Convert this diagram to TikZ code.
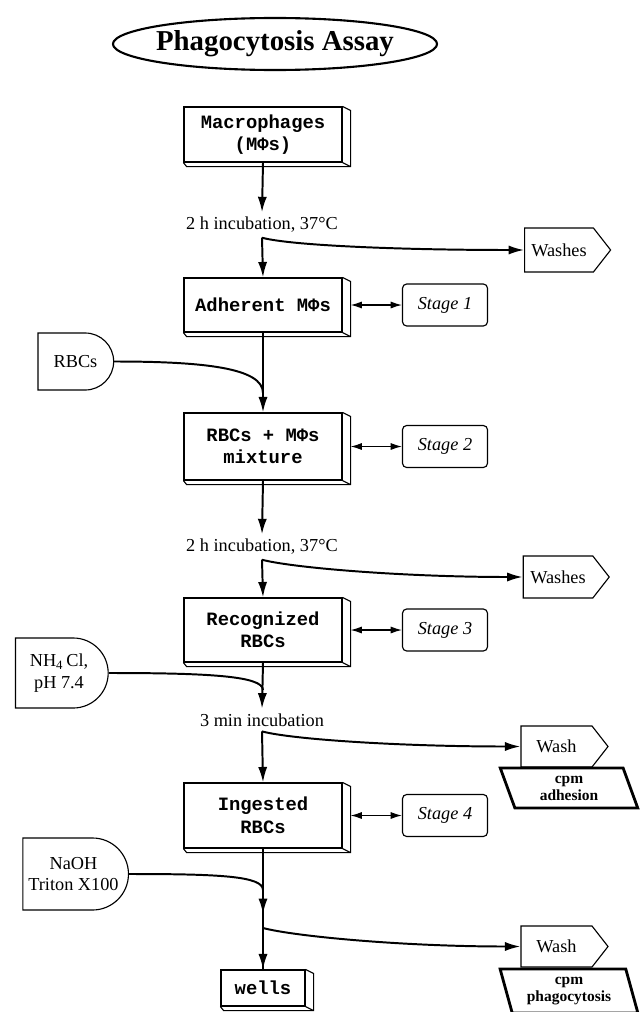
\documentclass[tikz,border=0pt]{standalone}
\usepackage{fontspec}
\setmainfont{Liberation Serif}
\setmonofont{Liberation Mono}
\usetikzlibrary{shapes,arrows.meta}

\begin{document}
\begin{tikzpicture}[x=0.025cm,y=-0.025cm]
\useasboundingbox (0,0) rectangle (639,1012);

\tikzstyle{cellbox}=[draw,line width=0.8pt,minimum width=3.95cm,align=center,
    font=\ttfamily\bfseries\fontsize{13.4}{16}\selectfont]
\tikzstyle{stagebox}=[draw,line width=0.8pt,rounded corners=3pt,minimum width=2.125cm,
    minimum height=1.05cm,font=\itshape\fontsize{13}{15}\selectfont]
\tikzstyle{reagent}=[draw,line width=0.8pt,rounded rectangle,rounded rectangle west arc=none,
    align=center,font=\fontsize{13}{15.5}\selectfont]
\tikzstyle{washbox}=[draw,line width=0.8pt,signal,signal to=east,signal pointer angle=104,
    font=\fontsize{13}{15}\selectfont]
\tikzstyle{countbox}=[draw,line width=2pt,trapezium,trapezium left angle=107,
    trapezium right angle=73,trapezium stretches=true,align=center,inner sep=1pt,
    font=\bfseries\fontsize{11}{12}\selectfont]
\tikzstyle{note}=[font=\fontsize{13}{15}\selectfont]
\tikzstyle{flow}=[line width=1.4pt,-{Latex[length=11pt,width=6.5pt]}]
\tikzstyle{feed}=[line width=1.4pt]
\tikzstyle{link}=[line width=0.8pt,{Latex[length=8pt,width=5pt]}-{Latex[length=8pt,width=5pt]}]

%% Title
\node[ellipse,draw,line width=1.5pt,minimum width=8.1cm,minimum height=1.3cm,
    inner xsep=-12pt,inner ysep=0pt,
    font=\bfseries\fontsize{20.5}{24}\selectfont] (title) at (275,44) {Phagocytosis Assay};

%% Main column
\node[cellbox,minimum height=1.375cm] (mac) at (263,134.5) {Macrophages\\(MΦs)};
\node[note] (inc1) at (262,225) {2 h incubation, 37°C};
\node[cellbox,minimum height=1.35cm] (adh) at (263,305) {Adherent MΦs};
\node[cellbox,minimum height=1.675cm] (mix) at (263,446.5) {RBCs + MΦs\\mixture};
\node[note] (inc2) at (262,547) {2 h incubation, 37°C};
\node[cellbox,minimum height=1.6cm] (rec) at (263,630) {Recognized\\RBCs};
\node[note] (inc3) at (262,720) {3 min incubation};
\node[cellbox,minimum height=1.625cm] (ing) at (263,815.5) {Ingested\\RBCs};
\node[cellbox,minimum width=2.1cm,minimum height=0.9cm] (wel) at (263,988) {wells};

% raised edge of the boxes
\foreach \n in {mac,adh,mix,rec,ing,wel}
    \draw[line width=0.8pt] (\n.north east) -- ++(0.2cm,-0.1cm)
        |- ([shift={(0.08cm,-0.1cm)}]\n.south west) -- (\n.south west)
        (\n.south east) -- ++(0.2cm,-0.1cm);

%% Stages
\node[stagebox] (s1) at (445,305) {Stage 1};
\node[stagebox] (s2) at (445,446.5) {Stage 2};
\node[stagebox] (s3) at (445,630) {Stage 3};
\node[stagebox] (s4) at (445,815.5) {Stage 4};

%% Reagents
\node[reagent,minimum width=2.125cm,minimum height=1.425cm] (rbc) at (75.5,361.5) {RBCs};
\node[reagent,minimum width=2.55cm,minimum height=1.75cm] (nh4) at (59,673)
    {NH\textsubscript{4}\,Cl,\\pH 7.4};
\node[reagent,minimum width=2.875cm,minimum height=1.8cm] (naoh) at (73.5,874)
    {NaOH\\Triton X100};

%% Washes and counts
\node[washbox,minimum width=2.15cm,minimum height=1.1cm] (w1) at (559,250) {Washes};
\node[washbox,minimum width=2.15cm,minimum height=1.05cm] (w2) at (558,577) {Washes};
\node[washbox,minimum width=2.175cm,minimum height=1.025cm] (w3) at (556.5,746.5) {Wash};
\node[washbox,minimum width=2.175cm,minimum height=1.025cm] (w4) at (556.5,946.5) {Wash};
\node[countbox,minimum width=3.45cm,minimum height=1cm] (c1) at (569,788) {cpm\\adhesion};
\node[countbox,minimum width=3.45cm,minimum height=1.1cm] (c2) at (569,991) {cpm\\phagocytosis};

%% Flow
\coordinate (m1) at (263,393);
\coordinate (m2) at (263,690);
\coordinate (m3) at (263,890);
\coordinate (t4) at (263,914);
\coordinate (b4) at (263,928);

\draw[flow] (mac.south) -- (inc1.north);
\draw[flow] (inc1.south) -- (adh.north);
\draw[flow] (inc1.south) .. controls +(30,8) and +(-120,0) .. (w1.west);
\draw[feed] (rbc.east) .. controls +(90,0) and +(0,-25) .. (m1);
\draw[flow] (adh.south) -- (mix.north);
\draw[flow] (mix.south) -- (inc2.north);
\draw[flow] (inc2.south) -- (rec.north);
\draw[flow] (inc2.south) .. controls +(30,8) and +(-120,0) .. (w2.west);
\draw[feed] (nh4.east) .. controls +(100,0) and +(0,-14) .. (m2);
\draw[flow] (rec.south) -- (inc3.north);
\draw[flow] (inc3.south) -- (ing.north);
\draw[flow] (inc3.south) .. controls +(30,8) and +(-120,0) .. (w3.west);
\draw[feed] (naoh.east) .. controls +(90,0) and +(0,-14) .. (m3);
\draw[feed] (ing.south) -- (wel.north);
\draw[flow] (ing.south) -- (t4);
\draw[flow] (b4) -- (wel.north);
\draw[flow] (b4) .. controls +(30,8) and +(-120,0) .. (w4.west);

%% Stage links
\draw[link] ([xshift=0.2cm]adh.east) -- (s1.west);
\draw[link] ([xshift=0.2cm]mix.east) -- (s2.west);
\draw[link] ([xshift=0.2cm]rec.east) -- (s3.west);
\draw[link] ([xshift=0.2cm]ing.east) -- (s4.west);

\end{tikzpicture}
\end{document}
